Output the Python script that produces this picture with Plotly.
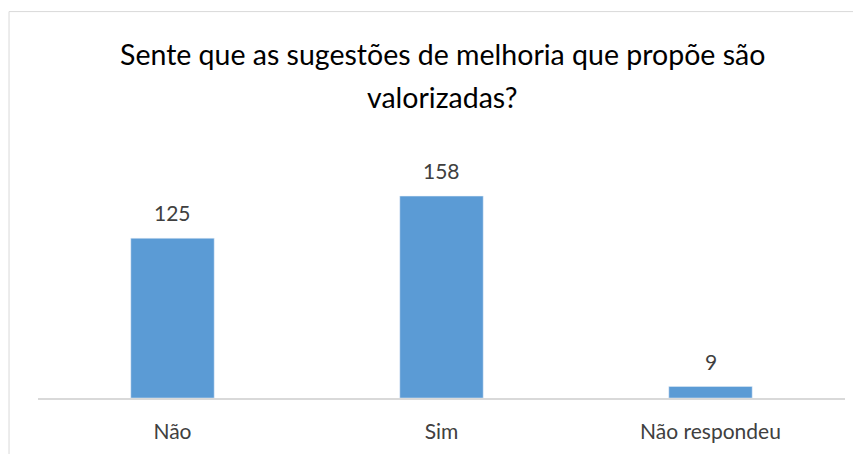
import plotly.graph_objects as go

categories = ["Não", "Sim", "Não respondeu"]
values = [125, 158, 9]
title_lines = ["Sente que as sugestões de melhoria que propõe são", "valorizadas?"]

# the page body adds an 8px margin, so the figure is laid out 8px smaller
fig = go.Figure(
    go.Bar(
        x=categories,
        y=values,
        marker=dict(color="#5b9bd5"),
    )
)

# data labels above the bars
for cat, val in zip(categories, values):
    fig.add_annotation(
        x=cat,
        y=val,
        text=str(val),
        showarrow=False,
        yanchor="bottom",
        yshift=11,
        font=dict(size=21, color="#404040"),
    )

# title lines
for line, ypos in zip(title_lines, [1.496, 1.309]):
    fig.add_annotation(
        x=0.5015,
        y=ypos,
        xref="paper",
        yref="paper",
        text=line,
        showarrow=False,
        xanchor="center",
        yanchor="middle",
        font=dict(size=28.5, color="#000000"),
    )

fig.update_layout(
    width=853,
    height=446,
    margin=dict(l=29.5, r=16, t=160, b=56),
    paper_bgcolor="white",
    plot_bgcolor="white",
    bargap=0.69,
    font=dict(family="Lato, Open Sans, sans-serif", color="#404040"),
    showlegend=False,
)

fig.update_xaxes(
    showline=True,
    linecolor="#d9d9d9",
    linewidth=1.5,
    ticks="",
    tickfont=dict(size=21, color="#404040"),
    ticklabelstandoff=14,
)
fig.update_yaxes(
    range=[0, 180],
    visible=False,
    showgrid=False,
)

# chart frame
fig.add_shape(
    type="rect",
    xref="paper",
    yref="paper",
    x0=-0.0359,
    x1=1.5,
    y0=-1.0,
    y1=1.68,
    line=dict(color="#d9d9d9", width=1),
    layer="below",
)

fig.write_html("out.html")
